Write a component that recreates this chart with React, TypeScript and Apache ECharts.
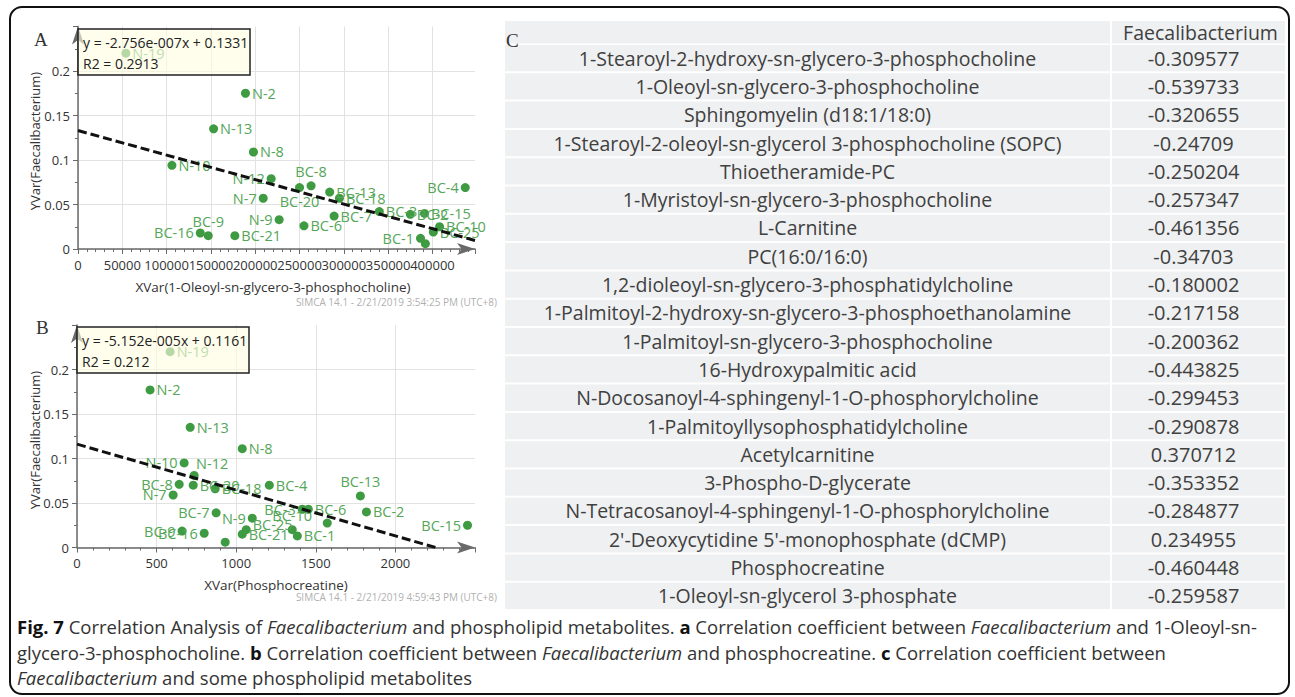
import React, { useEffect, useRef } from "react";
import * as echarts from "echarts";

// ---------- Panel A data: 1-Oleoyl-sn-glycero-3-phosphocholine vs Faecalibacterium ----------
const namesA = ["N-19", "N-2", "N-13", "N-8", "N-10", "N-12", "N-7", "N-9", "BC-20", "BC-8", "BC-13", "BC-18", "BC-7", "BC-6", "BC-21", "BC-16", "BC-9", "BC-3", "BC-2", "BC-15", "BC-10", "BC-25", "BC-1", "", "BC-4"];
const xA = [54000, 189000, 153000, 198000, 106000, 218000, 209000, 227000, 250000, 263000, 284000, 295000, 289000, 255000, 177000, 138000, 147000, 340000, 375000, 391000, 408000, 401000, 386500, 392000, 437000];
const yA = [0.22, 0.175, 0.135, 0.109, 0.094, 0.079, 0.057, 0.033, 0.069, 0.071, 0.064, 0.057, 0.037, 0.026, 0.015, 0.018, 0.015, 0.042, 0.039, 0.04, 0.025, 0.019, 0.012, 0.006, 0.069];
const trendA = [[0, 0.1331], [448000, 0.0096]];
const eqA = ["y = -2.756e-007x + 0.1331", "R2 = 0.2913"];

// ---------- Panel B data: Phosphocreatine vs Faecalibacterium ----------
const namesB = ["N-19", "N-2", "N-13", "N-8", "N-10", "N-12", "BC-8", "N-7", "BC-20", "BC-18", "BC-7", "N-9", "BC-9", "BC-16", "", "BC-21", "BC-25", "BC-4", "BC-13", "BC-2", "BC-15", "BC-3", "BC-6", "BC-10", "", "BC-1"];
const xB = [585, 459, 711, 1038, 673, 736, 642, 604, 730, 868, 874, 1101, 660, 799, 931, 1038, 1063, 1208, 1780, 1818, 2453, 1415, 1453, 1352, 1572, 1384];
const yB = [0.22, 0.177, 0.135, 0.111, 0.095, 0.081, 0.071, 0.059, 0.07, 0.066, 0.039, 0.033, 0.0185, 0.016, 0.006, 0.015, 0.02, 0.07, 0.058, 0.04, 0.025, 0.043, 0.043, 0.02, 0.0275, 0.013];
const trendB = [[0, 0.1161], [2253, 0]];
const eqB = ["y = -5.152e-005x + 0.1161", "R2 = 0.212"];

// ---------- Panel C table ----------
const tableHeader = "Faecalibacterium";
const tableNames = [
  "1-Stearoyl-2-hydroxy-sn-glycero-3-phosphocholine",
  "1-Oleoyl-sn-glycero-3-phosphocholine",
  "Sphingomyelin (d18:1/18:0)",
  "1-Stearoyl-2-oleoyl-sn-glycerol 3-phosphocholine (SOPC)",
  "Thioetheramide-PC",
  "1-Myristoyl-sn-glycero-3-phosphocholine",
  "L-Carnitine",
  "PC(16:0/16:0)",
  "1,2-dioleoyl-sn-glycero-3-phosphatidylcholine",
  "1-Palmitoyl-2-hydroxy-sn-glycero-3-phosphoethanolamine",
  "1-Palmitoyl-sn-glycero-3-phosphocholine",
  "16-Hydroxypalmitic acid",
  "N-Docosanoyl-4-sphingenyl-1-O-phosphorylcholine",
  "1-Palmitoyllysophosphatidylcholine",
  "Acetylcarnitine",
  "3-Phospho-D-glycerate",
  "N-Tetracosanoyl-4-sphingenyl-1-O-phosphorylcholine",
  "2'-Deoxycytidine 5'-monophosphate (dCMP)",
  "Phosphocreatine",
  "1-Oleoyl-sn-glycerol 3-phosphate",
];
const tableValues = [-0.309577, -0.539733, -0.320655, -0.24709, -0.250204, -0.257347, -0.461356, -0.34703, -0.180002, -0.217158, -0.200362, -0.443825, -0.299453, -0.290878, 0.370712, -0.353352, -0.284877, 0.234955, -0.460448, -0.259587];

const captionLines = [
  "{b|Fig. 7} Correlation Analysis of {i|Faecalibacterium} and phospholipid metabolites. {b|a} Correlation coefficient between {i|Faecalibacterium} and 1-Oleoyl-sn-",
  "glycero-3-phosphocholine. {b|b} Correlation coefficient between {i|Faecalibacterium} and phosphocreatine. {b|c} Correlation coefficient between",
  "{i|Faecalibacterium} and some phospholipid metabolites",
];

// ---------- label placement (style, kept apart from data) ----------
const placeA: Record<string, any> = {
  "N-12": "left", "N-7": "left", "N-9": "left", "BC-20": "bottom", "BC-8": "top",
  "BC-9": "top", "BC-16": "left", "BC-1": "left", "BC-4": "left",
};
const placeB: Record<string, any> = {
  "N-10": "left", "BC-8": "left", "N-7": "left", "BC-7": "left", "N-9": "left",
  "BC-9": "left", "BC-16": "left", "BC-13": "top", "BC-15": "left", "BC-3": "left", "BC-10": "top",
};

const FONT = "Open Sans";
const GREEN = "#3f9b42";
const LABEL_GREEN = "#55a657";
const CAP = 18.5;
const TAB = 19.5;

function scatterData(names: string[], xs: number[], ys: number[], place: Record<string, any>) {
  return names.map((n, i) => {
    const item: any = { name: n, value: [xs[i], ys[i]] };
    item.label = { position: place[n] || "right" };
    if (n === "N-12" && place === placeB) item.label = { position: "top", offset: [18, 2] };
    if (n === "BC-25" && place === placeB) item.label = { position: "right", offset: [0, -5] };
    return item;
  });
}

const tickColor = "#6a6a6a";
function axisCommon(extra: any) {
  return {
    type: "value",
    min: 0,
    axisLine: {
      show: true,
      lineStyle: { color: tickColor, width: 1.5 },
      symbol: ["none", "arrow"],
      symbolSize: [9, 18],
    },
    axisTick: { show: true, length: 5, lineStyle: { color: tickColor } },
    axisLabel: { fontFamily: FONT, fontSize: 13, color: "#333", showMaxLabel: false, formatter: (v: number) => String(v) },
    splitLine: { show: true, showMaxLine: false, lineStyle: { color: "#e2e2e2", width: 1 } },
    ...extra,
  };
}

export default function App() {
  const ref = useRef<HTMLDivElement>(null);

  useEffect(() => {
    if (!ref.current) return;
    const chart = echarts.init(ref.current, null, { renderer: "svg" });

    const graphics: any[] = [];
    // outer frame
    graphics.push({
      type: "rect", z: 200,
      shape: { x: 10, y: 7, width: 1279, height: 687, r: 12 },
      style: { fill: "none", stroke: "#111", lineWidth: 2 },
    });
    // panel letters
    const letter = (t: string, x: number, y: number) => ({
      type: "text", z: 120, x, y,
      style: { text: t, font: "19px 'Liberation Serif'", fill: "#333", textVerticalAlign: "middle" },
    });
    graphics.push(letter("A", 34, 39), letter("B", 36, 327), letter("C", 506, 40));
    // axis titles
    const ytitle = (y: number) => ({
      type: "text", z: 120, x: 35, y, rotation: Math.PI / 2,
      style: { text: "YVar(Faecalibacterium)", font: `13px '${FONT}'`, fill: "#333", textAlign: "center", textVerticalAlign: "middle" },
    });
    graphics.push(ytitle(141), ytitle(440));
    const xtitle = (t: string, x: number, y: number) => ({
      type: "text", z: 120, x, y,
      style: { text: t, font: `13.5px '${FONT}'`, fill: "#333", textAlign: "center", textVerticalAlign: "middle" },
    });
    graphics.push(xtitle("XVar(1-Oleoyl-sn-glycero-3-phosphocholine)", 273, 287));
    graphics.push(xtitle("XVar(Phosphocreatine)", 276, 585));
    const simca = (t: string, y: number) => ({
      type: "text", z: 120, x: 497, y,
      style: { text: t, font: `10px '${FONT}'`, fill: "#b0b0b0", textAlign: "right", textVerticalAlign: "middle" },
    });
    graphics.push(simca("SIMCA 14.1 - 2/21/2019 3:54:25 PM (UTC+8)", 302));
    graphics.push(simca("SIMCA 14.1 - 2/21/2019 4:59:43 PM (UTC+8)", 597));
    // equation boxes
    const eqBox = (lines: string[], x: number, y: number) => [
      {
        type: "rect", z: 150,
        shape: { x, y, width: 172, height: 46 },
        style: { fill: "rgba(255,253,225,0.62)", stroke: "#222", lineWidth: 1.5 },
      },
      {
        type: "text", z: 151, x: x + 5, y: y + 13,
        style: { text: lines[0], font: `14px '${FONT}'`, fill: "#222", textVerticalAlign: "middle" },
      },
      {
        type: "text", z: 151, x: x + 5, y: y + 34,
        style: { text: lines[1], font: `14px '${FONT}'`, fill: "#222", textVerticalAlign: "middle" },
      },
    ];
    graphics.push(...eqBox(eqA, 78, 29), ...eqBox(eqB, 77, 327));

    // table
    const col1X = 505, col1W = 605, col2X = 1112, col2W = 173;
    const headTop = 21, headH = 22.5, rowTop = 45, rowH = 28.3;
    const cellFill = "#eff0f2";
    graphics.push(
      { type: "rect", z: 100, shape: { x: col1X, y: headTop, width: col1W, height: headH }, style: { fill: cellFill } },
      { type: "rect", z: 100, shape: { x: col2X, y: headTop, width: col2W, height: headH }, style: { fill: cellFill } },
      {
        type: "text", z: 101, x: col2X + col2W / 2 + 2, y: headTop + headH / 2,
        style: { text: tableHeader, font: `${TAB}px '${FONT}'`, fill: "#404040", textAlign: "center", textVerticalAlign: "middle" },
      },
    );
    tableNames.forEach((n, i) => {
      const y = rowTop + rowH * i;
      graphics.push(
        { type: "rect", z: 100, shape: { x: col1X, y, width: col1W, height: rowH - 2 }, style: { fill: cellFill } },
        { type: "rect", z: 100, shape: { x: col2X, y, width: col2W, height: rowH - 2 }, style: { fill: cellFill } },
        {
          type: "text", z: 101, x: col1X + col1W / 2, y: y + (rowH - 2) / 2,
          style: { text: n, font: `${TAB}px '${FONT}'`, fill: "#404040", textAlign: "center", textVerticalAlign: "middle" },
        },
        {
          type: "text", z: 101, x: col2X + col2W / 2 - 5, y: y + (rowH - 2) / 2,
          style: { text: String(tableValues[i]), font: `20px '${FONT}'`, fill: "#404040", textAlign: "center", textVerticalAlign: "middle" },
        },
      );
    });

    // caption
    const capY = [626, 652, 677];
    captionLines.forEach((t, i) => {
      graphics.push({
        type: "text", z: 120, x: 17, y: capY[i],
        style: {
          text: t,
          fontFamily: FONT, fontSize: CAP, fill: "#333", textVerticalAlign: "middle",
          rich: {
            b: { fontFamily: FONT, fontSize: CAP, fontWeight: "bold", fill: "#111" },
            i: { fontFamily: FONT, fontSize: CAP, fontStyle: "italic", fill: "#333" },
          },
        },
      });
    });

    const scatterCommon = {
      type: "scatter",
      symbolSize: 9,
      itemStyle: { color: GREEN, opacity: 1 },
      label: { show: true, formatter: "{b}", fontFamily: FONT, fontSize: 14.5, color: LABEL_GREEN, distance: 2 },
      emphasis: { disabled: true },
      z: 3,
    };
    const lineCommon = {
      type: "line",
      symbol: "none",
      lineStyle: { color: "#111", width: 3, type: [9, 4] },
      z: 5,
      silent: true,
    };
    const minor = (n: number) => ({ show: true, splitNumber: n, length: 3, lineStyle: { color: tickColor } });

    chart.setOption({
      animation: false,
      grid: [
        { left: 78, top: 26.5, width: 397, height: 222.5 },
        { left: 77, top: 325, width: 398, height: 222.5 },
      ],
      xAxis: [
        axisCommon({ gridIndex: 0, max: 448000, interval: 50000, minorTick: minor(5), axisLabel: { fontFamily: FONT, fontSize: 13, color: "#333", showMaxLabel: false, margin: 9, formatter: (v: number) => String(v) } }),
        axisCommon({ gridIndex: 1, max: 2500, interval: 500, minorTick: minor(5), axisLabel: { fontFamily: FONT, fontSize: 13, color: "#333", showMaxLabel: false, margin: 9, formatter: (v: number) => String(v) } }),
      ],
      yAxis: [
        axisCommon({ gridIndex: 0, max: 0.25, interval: 0.05, minorTick: minor(2) }),
        axisCommon({ gridIndex: 1, max: 0.25, interval: 0.05, minorTick: minor(2) }),
      ],
      series: [
        { ...scatterCommon, xAxisIndex: 0, yAxisIndex: 0, data: scatterData(namesA, xA, yA, placeA) },
        { ...lineCommon, xAxisIndex: 0, yAxisIndex: 0, data: trendA },
        { ...scatterCommon, xAxisIndex: 1, yAxisIndex: 1, data: scatterData(namesB, xB, yB, placeB) },
        { ...lineCommon, xAxisIndex: 1, yAxisIndex: 1, data: trendB },
      ],
      graphic: graphics,
    });

    return () => chart.dispose();
  }, []);

  return (
    <div
      ref={ref}
      style={{ position: "absolute", left: 0, top: 0, width: 1295, height: 697, background: "#fff" }}
    />
  );
}
